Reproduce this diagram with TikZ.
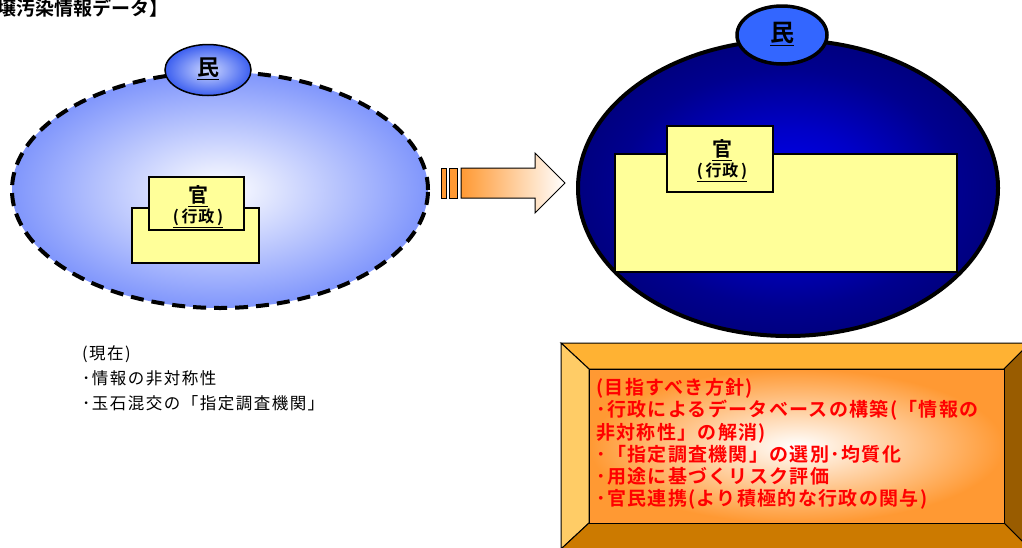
\documentclass[tikz,border=0pt]{standalone}
\usepackage{fontspec}
\setmainfont{Noto Sans CJK JP}[BoldFont=* Bold]
\newfontfamily\boxfont{Noto Sans CJK JP}[BoldFont=* Bold, LetterSpace=7]
\newfontfamily\gyofont{Noto Sans CJK JP}[BoldFont=* Bold, LetterSpace=5]
\newfontfamily\leftfont{Noto Sans CJK JP}[LetterSpace=9]
\usetikzlibrary{shapes.geometric}
\definecolor{yel}{RGB}{255,255,153}
\definecolor{lblue}{RGB}{128,150,252}
\definecolor{minLc}{RGB}{60,95,240}
\definecolor{minLi}{RGB}{205,215,255}
\definecolor{minRc}{RGB}{51,102,255}
\definecolor{org}{RGB}{255,153,51}
\definecolor{bvT}{RGB}{255,178,51}
\definecolor{bvL}{RGB}{255,204,102}
\definecolor{bvR}{RGB}{153,92,0}
\definecolor{bvB}{RGB}{204,122,0}
\pgfdeclareradialshading{blueball}{\pgfpoint{0bp}{0bp}}{rgb(0bp)=(0,0,0.95); rgb(10bp)=(0,0,0.78); rgb(20bp)=(0,0,0.56); rgb(25bp)=(0,0,0.5); rgb(50bp)=(0,0,0.5)}
\tikzset{
  kanbox/.style={draw, line width=1.2pt, fill=yel, inner sep=0pt},
  kantext/.style={font=\bfseries\fontsize{20}{20}\selectfont, inner sep=0pt},
  gyotext/.style={font=\gyofont\bfseries\fontsize{16}{16}\selectfont, inner sep=0pt},
  bevel/.style={draw, line width=1pt},
}
\begin{document}
\begin{tikzpicture}[x=1pt,y=-1pt]
\useasboundingbox (0,0) rectangle (1022,547);
% title
\node[anchor=west, font=\bfseries\fontsize{19}{19}\selectfont, inner sep=0pt] (title) at (-3,8) {壌汚染情報データ】};

% left civil ellipse
\path[shade, inner color=white, outer color=lblue] (220,190) ellipse [x radius=208pt, y radius=118pt];
\draw[line width=4pt, dash pattern=on 13pt off 8pt] (220,190) ellipse [x radius=208pt, y radius=118pt];
\node[ellipse, draw, line width=1.5pt, minimum width=86pt, minimum height=51pt, inner sep=0pt,
  inner color=minLi, outer color=minLc, shade] (minL) at (208,70) {};
\node[font=\bfseries\fontsize{22}{22}\selectfont, inner sep=0pt] (minLt) at (208,69) {\underline{民}};
\node[kanbox, minimum width=127pt, minimum height=55pt] (backL) at (195.5,235.5) {};
\node[kanbox, minimum width=95pt, minimum height=53pt] (frontL) at (196.5,203.5) {};
\node[kantext] (kanL) at (198,196) {\underline{官}};
\node[gyotext] (gyoL) at (198,218) {\underline{(\,行政\,)}};

% arrow
\node[draw, line width=1pt, fill=org, minimum width=5pt, minimum height=30pt, inner sep=0pt] (bar1) at (443.5,183) {};
\node[draw, line width=1pt, fill=org, minimum width=8pt, minimum height=30pt, inner sep=0pt] (bar2) at (453,183) {};
\path[draw, line width=1pt, left color=org, right color=white]
  (461,168) -- (535,168) -- (535,153) -- (565,183) -- (535,213) -- (535,198) -- (461,198) -- cycle;

% right civil ellipse
\path[shading=blueball] (788,188) ellipse [x radius=210pt, y radius=148pt];
\draw[line width=4pt] (788,188) ellipse [x radius=210pt, y radius=148pt];
\node[kanbox, minimum width=342pt, minimum height=118pt] (backR) at (786,213) {};
\node[kanbox, minimum width=106pt, minimum height=66pt] (frontR) at (720,159) {};
\node[kantext] (kanR) at (722,150) {\underline{官}};
\node[gyotext] (gyoR) at (722,172) {\underline{(\,行政\,)}};
\node[ellipse, draw, line width=3.5pt, fill=minRc, minimum width=90pt, minimum height=58pt, inner sep=0pt] (minR) at (782,35) {};
\node[font=\bfseries\fontsize{24}{24}\selectfont, inner sep=0pt] (minRt) at (782,34) {\underline{民}};

% current state text
\node[anchor=north west, align=left, font=\leftfont\fontsize{16.5}{25}\selectfont, inner sep=0pt] (now) at (82,345)
  {(現在)\\･情報の非対称性\\･玉石混交の「指定調査機関」};

% policy box
\path[bevel, fill=bvT] (561,343) -- (1030,343) -- (1004,369) -- (589,369) -- cycle;
\path[bevel, fill=bvL] (561,343) -- (589,369) -- (589,523) -- (561,549) -- cycle;
\path[bevel, fill=bvR] (1030,343) -- (1004,369) -- (1004,523) -- (1030,549) -- cycle;
\path[bevel, fill=bvB] (561,549) -- (589,523) -- (1004,523) -- (1030,549) -- cycle;
\path[bevel, inner color=white, outer color=org, shade] (589,369) rectangle (1004,523);
\draw[line width=1pt] (589,369) rectangle (1004,523);
\node[anchor=north west, align=left, text=red, font=\boxfont\bfseries\fontsize{19}{22.3}\selectfont, inner sep=0pt] (policy) at (596,378)
  {(目指すべき方針)\\･行政によるデータベースの構築(「情報の\\非対称性」の解消)\\･「指定調査機関」の選別･均質化\\･用途に基づくリスク評価\\･官民連携(より積極的な行政の関与)};
\end{tikzpicture}
\end{document}
